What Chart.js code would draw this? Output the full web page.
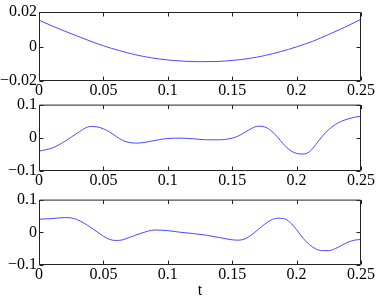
<!DOCTYPE html>
<html>
<head>
<meta charset="utf-8">
<script src="https://cdn.jsdelivr.net/npm/chart.js@4.4.1/dist/chart.umd.min.js"></script>
<style>
  html, body { margin: 0; padding: 0; background: #fff; }
  #wrap { position: relative; width: 378px; height: 300px; }
  .panel { position: absolute; left: 0; width: 378px; }
</style>
</head>
<body>
<div id="wrap">
  <div class="panel" style="top:0px;height:100px"><canvas id="c1"></canvas></div>
  <div class="panel" style="top:93px;height:97px"><canvas id="c2"></canvas></div>
  <div class="panel" style="top:188px;height:112px"><canvas id="c3"></canvas></div>
</div>
<script>
// shared x axis
const xTicks = [0, 0.05, 0.1, 0.15, 0.2, 0.25];
const xTickLabels = ['0', '0.05', '0.1', '0.15', '0.2', '0.25'];

// top panel
const tTop = [0, 0.0125, 0.025, 0.0375, 0.05, 0.0625, 0.075, 0.0875, 0.1, 0.1125, 0.125,
              0.1375, 0.15, 0.1625, 0.175, 0.1875, 0.2, 0.2125, 0.225, 0.2375, 0.25];
const topValues = [0.0152, 0.0112, 0.0074, 0.0038, 0.0004, -0.0024, -0.0048, -0.0066, -0.0078, -0.0085, -0.0088,
                   -0.0087, -0.0081, -0.0070, -0.0053, -0.0030, -0.0002, 0.0030, 0.0070, 0.0112, 0.0158];
const topYTicks = [-0.02, 0, 0.02];
const topYLabels = ['\u22120.02', '0', '0.02'];

// middle panel
const tMid = [0, 0.01, 0.02, 0.03, 0.04, 0.045, 0.05, 0.055, 0.06, 0.065, 0.07, 0.075, 0.08, 0.09,
              0.1, 0.11, 0.12, 0.13, 0.14, 0.15, 0.155, 0.16, 0.165, 0.17, 0.175, 0.18, 0.185,
              0.19, 0.195, 0.2, 0.205, 0.21, 0.215, 0.22, 0.225, 0.23, 0.235, 0.24, 0.245, 0.25];
const midValues = [-0.040, -0.031, -0.011, 0.015, 0.034, 0.033, 0.027, 0.017, 0.004, -0.008, -0.014, -0.016, -0.015, -0.008,
                   -0.002, -0.001, -0.003, -0.006, -0.006, -0.001, 0.006, 0.017, 0.028, 0.035, 0.033, 0.022, 0.003,
                   -0.020, -0.038, -0.047, -0.049, -0.042, -0.020, 0.005, 0.025, 0.040, 0.050, 0.057, 0.062, 0.065];

// bottom panel
const tBot = [0, 0.01, 0.02, 0.025, 0.03, 0.035, 0.04, 0.045, 0.05, 0.055, 0.06, 0.065, 0.07, 0.08,
              0.09, 0.1, 0.11, 0.12, 0.13, 0.14, 0.15, 0.155, 0.16, 0.165, 0.17, 0.175, 0.18, 0.185,
              0.19, 0.195, 0.2, 0.205, 0.21, 0.215, 0.22, 0.225, 0.23, 0.235, 0.24, 0.245, 0.25];
const botValues = [0.040, 0.042, 0.045, 0.044, 0.038, 0.028, 0.015, 0.002, -0.012, -0.022, -0.025, -0.023, -0.016, -0.002,
                   0.007, 0.005, 0.000, -0.004, -0.009, -0.016, -0.023, -0.024, -0.020, -0.008, 0.008, 0.024, 0.037, 0.043,
                   0.042, 0.030, 0.008, -0.018, -0.038, -0.051, -0.056, -0.056, -0.050, -0.040, -0.030, -0.024, -0.022];

const lowYTicks = [-0.1, 0, 0.1];
const lowYLabels = ['\u22120.1', '0', '0.1'];

const FONT = { family: 'Liberation Serif', size: 16 };

// frame + inward ticks, matlab style
const boxPlugin = {
    id: 'box',
    afterDraw(chart) {
        const { ctx, chartArea: a, scales } = chart;
        ctx.save();
        ctx.strokeStyle = '#222';
        ctx.lineWidth = 1;
        ctx.beginPath();
        const L = a.left + 0.5, R = a.right - 0.5, T = a.top + 0.5, B = a.bottom - 0.5;
        ctx.rect(L, T, R - L, B - T);
        const tl = 4;
        scales.x.ticks.forEach((t, i) => {
            const px = Math.round(scales.x.getPixelForTick(i)) + 0.5;
            ctx.moveTo(px, B); ctx.lineTo(px, B - tl);
            ctx.moveTo(px, T); ctx.lineTo(px, T + tl);
        });
        scales.y.ticks.forEach((t, i) => {
            const py = Math.round(scales.y.getPixelForTick(i)) + 0.5;
            ctx.moveTo(L, py); ctx.lineTo(L + tl, py);
            ctx.moveTo(R, py); ctx.lineTo(R - tl, py);
        });
        ctx.stroke();
        ctx.restore();
    }
};

function makePanel(id, ts, vals, yTicks, yLabels, padTop, xHeight, showTitle) {
    new Chart(document.getElementById(id), {
        type: 'line',
        data: {
            datasets: [{
                data: ts.map((t, i) => ({ x: t, y: vals[i] })),
                borderColor: '#4a4aff',
                borderWidth: 1,
                pointRadius: 0,
                cubicInterpolationMode: 'monotone',
                fill: false
            }]
        },
        options: {
            responsive: true,
            maintainAspectRatio: false,
            animation: false,
            layout: { padding: { top: padTop, right: 17, left: 0, bottom: 0 } },
            plugins: { legend: { display: false }, tooltip: { enabled: false } },
            scales: {
                x: {
                    type: 'linear',
                    min: 0, max: 0.25,
                    afterBuildTicks: s => { s.ticks = xTicks.map(v => ({ value: v })); },
                    afterFit: s => { s.height = xHeight; },
                    grid: { display: false, drawTicks: false },
                    border: { display: false },
                    ticks: {
                        color: '#000', font: FONT, padding: 0,
                        maxRotation: 0, autoSkip: false,
                        callback: (v, i) => xTickLabels[i]
                    },
                    title: {
                        display: showTitle, text: 't', color: '#000', font: FONT,
                        padding: { top: 0, bottom: 0 }
                    }
                },
                y: {
                    min: yTicks[0], max: yTicks[yTicks.length - 1],
                    afterBuildTicks: s => { s.ticks = yTicks.map(v => ({ value: v })); },
                    afterFit: s => { s.width = 39; },
                    grid: { display: false, drawTicks: false },
                    border: { display: false },
                    ticks: {
                        color: '#000', font: FONT, padding: 2,
                        callback: (v, i) => yLabels[i]
                    }
                }
            }
        },
        plugins: [boxPlugin]
    });
}

makePanel('c1', tTop, topValues, topYTicks, topYLabels, 12, 19, false);
makePanel('c2', tMid, midValues, lowYTicks, lowYLabels, 10, 19, false);
makePanel('c3', tBot, botValues, lowYTicks, lowYLabels, 10, 35, true);
</script>
</body>
</html>
